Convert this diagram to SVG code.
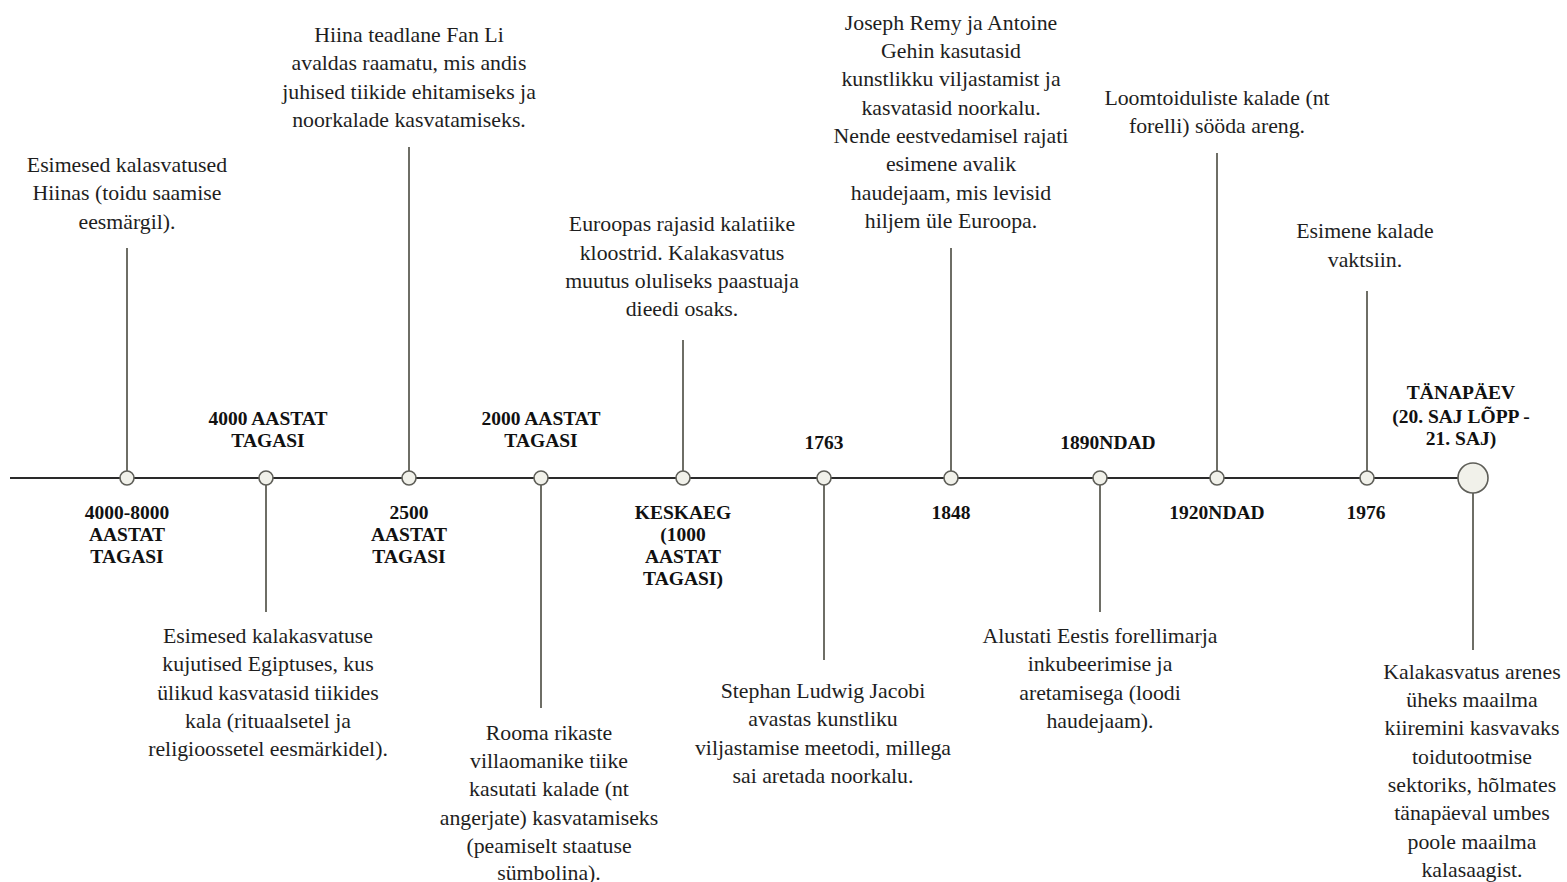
<svg xmlns="http://www.w3.org/2000/svg" width="1567" height="882" viewBox="0 0 1567 882">
<style>
.t{font-family:"Liberation Serif","Times New Roman",serif;font-size:21.8px;fill:#1e1e1e;text-anchor:middle}
.l{font-family:"Liberation Serif","Times New Roman",serif;font-size:19.5px;font-weight:bold;fill:#111;text-anchor:middle}
.c{stroke:#6e6e66;stroke-width:2;fill:none}
.a{stroke:#2a2a2a;stroke-width:2;fill:none}
.n{fill:#f1f1ea;stroke:#5e5e58;stroke-width:1.6}
</style>
<rect width="1567" height="882" fill="#fff"/>
<g id="connectors">
<line class="a" x1="10" y1="478" x2="1459" y2="478"/>
<line class="c" x1="127" y1="248" x2="127" y2="471"/>
<line class="c" x1="266" y1="485" x2="266" y2="612"/>
<line class="c" x1="409" y1="147" x2="409" y2="471"/>
<line class="c" x1="541" y1="485" x2="541" y2="708"/>
<line class="c" x1="683" y1="340" x2="683" y2="471"/>
<line class="c" x1="824" y1="485" x2="824" y2="660"/>
<line class="c" x1="951" y1="248" x2="951" y2="471"/>
<line class="c" x1="1100" y1="485" x2="1100" y2="612"/>
<line class="c" x1="1217" y1="153" x2="1217" y2="471"/>
<line class="c" x1="1367" y1="291" x2="1367" y2="471"/>
<line class="c" x1="1473" y1="493" x2="1473" y2="650"/>
</g>
<g id="n1">
<circle class="n" cx="127" cy="478" r="7"/>
<text class="t"><tspan x="127" y="172">Esimesed kalasvatused</tspan><tspan x="127" y="200">Hiinas (toidu saamise</tspan><tspan x="127" y="229">eesmärgil).</tspan></text>
<text class="l"><tspan x="127" y="519">4000-8000</tspan><tspan x="127" y="541">AASTAT</tspan><tspan x="127" y="563">TAGASI</tspan></text>
</g>
<g id="n2">
<circle class="n" cx="266" cy="478" r="7"/>
<text class="l"><tspan x="268" y="425">4000 AASTAT</tspan><tspan x="268" y="447">TAGASI</tspan></text>
<text class="t"><tspan x="268" y="643">Esimesed kalakasvatuse</tspan><tspan x="268" y="671">kujutised Egiptuses, kus</tspan><tspan x="268" y="700">ülikud kasvatasid tiikides</tspan><tspan x="268" y="728">kala (rituaalsetel ja</tspan><tspan x="268" y="756">religioossetel eesmärkidel).</tspan></text>
</g>
<g id="n3">
<circle class="n" cx="409" cy="478" r="7"/>
<text class="t"><tspan x="409" y="42">Hiina teadlane Fan Li</tspan><tspan x="409" y="70">avaldas raamatu, mis andis</tspan><tspan x="409" y="99">juhised tiikide ehitamiseks ja</tspan><tspan x="409" y="127">noorkalade kasvatamiseks.</tspan></text>
<text class="l"><tspan x="409" y="519">2500</tspan><tspan x="409" y="541">AASTAT</tspan><tspan x="409" y="563">TAGASI</tspan></text>
</g>
<g id="n4">
<circle class="n" cx="541" cy="478" r="7"/>
<text class="l"><tspan x="541" y="425">2000 AASTAT</tspan><tspan x="541" y="447">TAGASI</tspan></text>
<text class="t"><tspan x="549" y="740">Rooma rikaste</tspan><tspan x="549" y="768">villaomanike tiike</tspan><tspan x="549" y="796">kasutati kalade (nt</tspan><tspan x="549" y="825">angerjate) kasvatamiseks</tspan><tspan x="549" y="853">(peamiselt staatuse</tspan><tspan x="549" y="880">sümbolina).</tspan></text>
</g>
<g id="n5">
<circle class="n" cx="683" cy="478" r="7"/>
<text class="t"><tspan x="682" y="231">Euroopas rajasid kalatiike</tspan><tspan x="682" y="260">kloostrid. Kalakasvatus</tspan><tspan x="682" y="288">muutus oluliseks paastuaja</tspan><tspan x="682" y="316">dieedi osaks.</tspan></text>
<text class="l"><tspan x="683" y="519">KESKAEG</tspan><tspan x="683" y="541">(1000</tspan><tspan x="683" y="563">AASTAT</tspan><tspan x="683" y="585">TAGASI)</tspan></text>
</g>
<g id="n6">
<circle class="n" cx="824" cy="478" r="7"/>
<text class="l"><tspan x="824" y="449">1763</tspan></text>
<text class="t"><tspan x="823" y="698">Stephan Ludwig Jacobi</tspan><tspan x="823" y="726">avastas kunstliku</tspan><tspan x="823" y="755">viljastamise meetodi, millega</tspan><tspan x="823" y="783">sai aretada noorkalu.</tspan></text>
</g>
<g id="n7">
<circle class="n" cx="951" cy="478" r="7"/>
<text class="t"><tspan x="951" y="30">Joseph Remy ja Antoine</tspan><tspan x="951" y="58">Gehin kasutasid</tspan><tspan x="951" y="86">kunstlikku viljastamist ja</tspan><tspan x="951" y="115">kasvatasid noorkalu.</tspan><tspan x="951" y="143">Nende eestvedamisel rajati</tspan><tspan x="951" y="171">esimene avalik</tspan><tspan x="951" y="200">haudejaam, mis levisid</tspan><tspan x="951" y="228">hiljem üle Euroopa.</tspan></text>
<text class="l"><tspan x="951" y="519">1848</tspan></text>
</g>
<g id="n8">
<circle class="n" cx="1100" cy="478" r="7"/>
<text class="l"><tspan x="1108" y="449">1890NDAD</tspan></text>
<text class="t"><tspan x="1100" y="643">Alustati Eestis forellimarja</tspan><tspan x="1100" y="671">inkubeerimise ja</tspan><tspan x="1100" y="700">aretamisega (loodi</tspan><tspan x="1100" y="728">haudejaam).</tspan></text>
</g>
<g id="n9">
<circle class="n" cx="1217" cy="478" r="7"/>
<text class="t"><tspan x="1217" y="105">Loomtoiduliste kalade (nt</tspan><tspan x="1217" y="133">forelli) sööda areng.</tspan></text>
<text class="l"><tspan x="1217" y="519">1920NDAD</tspan></text>
</g>
<g id="n10">
<circle class="n" cx="1367" cy="478" r="7"/>
<text class="t"><tspan x="1365" y="238">Esimene kalade</tspan><tspan x="1365" y="267">vaktsiin.</tspan></text>
<text class="l"><tspan x="1366" y="519">1976</tspan></text>
</g>
<g id="n11">
<circle class="n" cx="1473" cy="478" r="15"/>
<text class="l"><tspan x="1461" y="399">TÄNAPÄEV</tspan><tspan x="1461" y="423">(20. SAJ LÕPP -</tspan><tspan x="1461" y="445">21. SAJ)</tspan></text>
<text class="t"><tspan x="1472" y="679">Kalakasvatus arenes</tspan><tspan x="1472" y="707">üheks maailma</tspan><tspan x="1472" y="735">kiiremini kasvavaks</tspan><tspan x="1472" y="764">toidutootmise</tspan><tspan x="1472" y="792">sektoriks, hõlmates</tspan><tspan x="1472" y="820">tänapäeval umbes</tspan><tspan x="1472" y="849">poole maailma</tspan><tspan x="1472" y="877">kalasaagist.</tspan></text>
</g>
</svg>
